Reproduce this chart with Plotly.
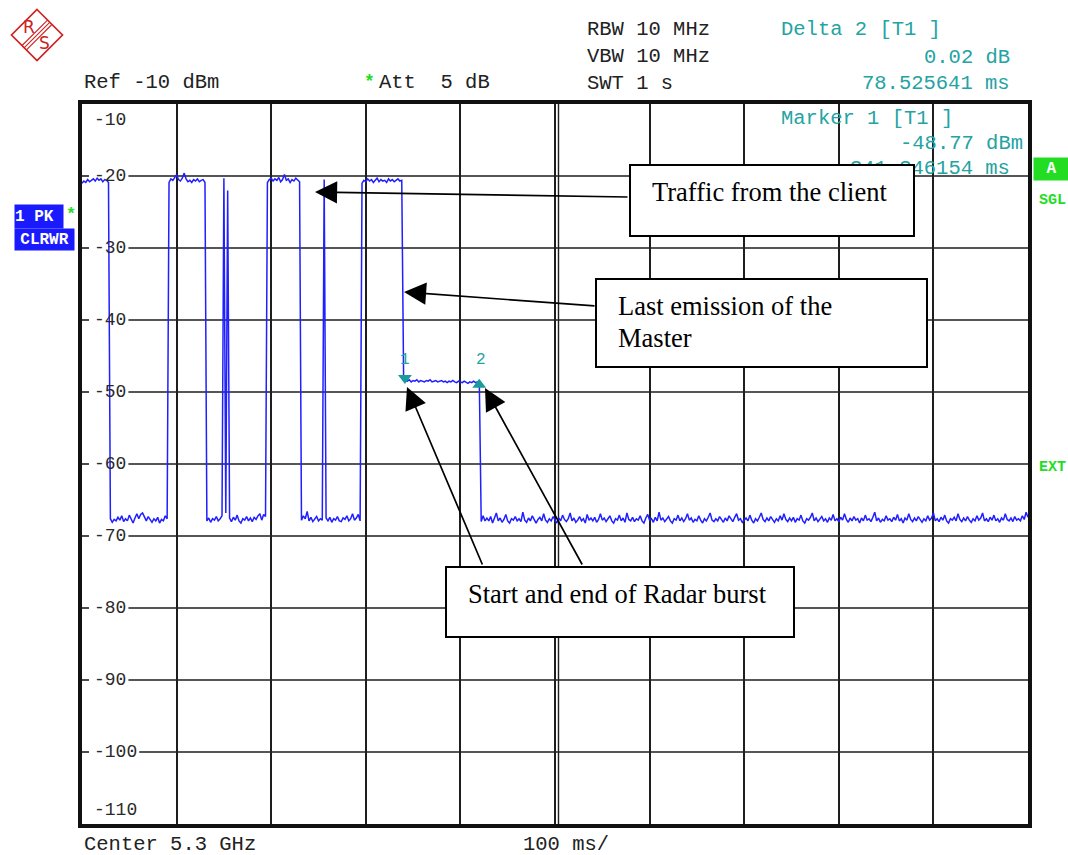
import plotly.graph_objects as go

# ---------------- data ----------------
sweep_step_ms = 2.0
level_dbm = [
    -21.0, -20.7, -20.9, -20.5, -20.8, -20.6, -20.4, -20.7, -20.3, -20.6,
    -20.4, -20.8, -20.5, -20.6, -20.9, -67.6, -68.1, -67.7, -67.9, -67.4,
    -67.8, -67.2, -68.0, -67.6, -67.9, -67.1, -67.7, -68.2, -67.5, -66.9,
    -67.6, -67.0, -66.8, -67.4, -67.9, -67.3, -67.8, -68.1, -67.6, -67.9,
    -67.4, -68.2, -67.7, -67.9, -67.2, -67.6, -20.9, -20.4, -20.6, -20.2,
    -19.8, -20.5, -20.7, -20.3, -19.6, -20.4, -20.8, -20.6, -20.9, -20.5,
    -20.7, -20.4, -20.8, -20.6, -20.5, -20.9, -67.9, -67.5, -68.1, -67.6,
    -67.8, -67.3, -67.9, -67.6, -67.2, -20.3, -66.8, -22.0, -67.5, -68.0,
    -67.4, -67.8, -67.1, -67.9, -68.2, -67.6, -67.8, -67.3, -67.9, -67.5,
    -68.0, -67.4, -67.7, -67.2, -66.9, -67.8, -67.0, -67.3, -20.9, -20.5,
    -20.3, -20.7, -20.4, -20.6, -20.2, -20.8, -20.5, -19.8, -20.6, -20.4,
    -20.9, -20.5, -20.7, -20.3, -20.6, -20.8, -67.8, -67.2, -67.6, -66.6,
    -67.9, -67.4, -68.0, -67.7, -67.3, -67.9, -67.6, -67.8, -20.5, -67.5,
    -67.9, -67.4, -68.1, -67.6, -67.8, -67.3, -67.9, -68.0, -67.5, -67.7,
    -67.2, -67.9, -67.6, -66.9, -67.8, -67.5, -67.0, -67.9, -21.0, -20.6,
    -20.8, -20.4, -20.7, -20.5, -20.9, -20.6, -20.3, -20.8, -20.5, -20.7,
    -20.6, -20.9, -20.4, -20.7, -20.5, -20.8, -20.6, -20.4, -20.7, -20.6,
    -48.3, -48.4, -48.5, -48.3, -48.6, -48.4, -48.5, -48.3, -48.6, -48.4,
    -48.5, -48.6, -48.4, -48.5, -48.3, -48.6, -48.5, -48.4, -48.6, -48.5,
    -48.4, -48.6, -48.5, -48.7, -48.5, -48.6, -48.4, -48.6, -48.7, -48.5,
    -48.6, -48.7, -48.5, -48.6, -48.8, -48.6, -48.7, -48.5, -48.7, -48.6,
    -48.7, -68.0, -67.2, -67.9, -67.5, -67.9, -67.3, -68.2, -67.6, -66.8,
    -67.9, -67.5, -68.1, -67.7, -67.0, -67.9, -68.2, -67.6, -67.8, -67.3,
    -67.9, -67.6, -68.0, -66.7, -67.8, -68.1, -67.5, -67.9, -67.2, -67.8,
    -68.2, -67.7, -67.4, -67.9, -66.9, -67.8, -68.1, -67.6, -67.9, -67.3,
    -67.8, -68.2, -67.5, -67.9, -67.1, -67.7, -68.0, -67.6, -66.8, -67.9,
    -67.5, -68.1, -67.8, -67.3, -67.9, -67.6, -68.2, -67.0, -67.8, -67.5,
    -67.9, -67.4, -68.1, -67.7, -66.9, -67.8, -67.5, -68.0, -67.6, -67.2,
    -67.9, -68.2, -67.6, -67.8, -67.1, -67.9, -67.5, -68.1, -66.8, -67.7,
    -67.9, -67.4, -68.0, -67.6, -67.8, -67.2, -67.9, -68.2, -67.5, -67.0,
    -67.8, -67.6, -68.1, -67.4, -67.9, -66.7, -67.8, -67.5, -68.0, -67.7,
    -67.3, -67.9, -68.2, -67.6, -67.8, -67.1, -67.9, -67.5, -68.0, -67.6,
    -66.9, -67.8, -67.5, -68.1, -67.7, -67.9, -67.2, -67.8, -68.2, -67.6,
    -67.9, -67.4, -66.8, -67.8, -68.0, -67.6, -67.9, -67.3, -67.8, -68.1,
    -67.5, -67.9, -67.2, -67.7, -68.0, -67.4, -66.9, -67.8, -67.6, -68.1,
    -67.8, -67.5, -67.9, -67.1, -67.8, -68.2, -67.6, -67.9, -67.4, -66.8,
    -67.7, -68.0, -67.5, -67.9, -67.3, -67.8, -68.1, -67.6, -67.9, -67.2,
    -67.8, -66.9, -67.7, -68.0, -67.5, -67.9, -67.4, -68.1, -67.6, -67.8,
    -67.1, -67.9, -68.2, -67.6, -67.8, -67.4, -66.8, -67.9, -67.5, -68.0,
    -67.7, -67.3, -67.9, -67.6, -68.1, -67.5, -67.8, -67.0, -67.9, -67.6,
    -68.0, -67.4, -67.8, -66.9, -67.7, -68.1, -67.5, -67.9, -67.3, -67.8,
    -67.6, -68.2, -67.5, -67.9, -67.1, -67.8, -67.6, -68.0, -67.4, -66.7,
    -67.9, -67.5, -68.1, -67.7, -67.9, -67.2, -67.8, -67.6, -68.0, -67.4,
    -67.8, -67.0, -67.9, -67.6, -68.2, -67.5, -67.8, -66.9, -67.7, -68.0,
    -67.5, -67.9, -67.3, -67.8, -68.1, -67.6, -67.9, -67.2, -67.8, -67.5,
    -66.8, -67.9, -67.6, -68.0, -67.4, -67.8, -67.1, -67.9, -68.2, -67.6,
    -67.8, -67.4, -67.9, -66.9, -67.7, -68.0, -67.5, -67.9, -67.3, -67.8,
    -68.1, -67.6, -67.9, -67.2, -67.8, -67.5, -66.8, -67.9, -67.6, -68.0,
    -67.4, -67.8, -67.1, -67.9, -67.6, -68.1, -67.5, -67.8, -66.9, -67.7,
    -67.9, -67.5, -68.0, -67.3, -67.8, -67.6, -67.9, -67.2, -67.7, -66.7,
    -67.4,
]
sweep_ms = [i * sweep_step_ms for i in range(len(level_dbm))]

marker_ms = [341.346154, 419.871795]
marker_dbm = [-48.77, -48.75]
marker_names = ["1", "2"]

y_tick_values = [-10, -20, -30, -40, -50, -60, -70, -80, -90, -100, -110]
y_tick_labels = ["-10", "-20", "-30", "-40", "-50", "-60", "-70", "-80", "-90", "-100", "-110"]

header_left = ["Ref -10 dBm"]
att_text = "Att  5 dB"
settings_text = ["RBW 10 MHz", "VBW 10 MHz", "SWT 1 s"]
delta_text = ["Delta 2 [T1 ]", "0.02 dB", "78.525641 ms"]
marker_text = ["Marker 1 [T1 ]", "-48.77 dBm", "341.346154 ms"]
footer_text = ["Center 5.3 GHz", "100 ms/"]

# ---------------- geometry helpers (pixels -> paper) ----------------
W, H = 1068, 855
PL, PR, PT, PB = 82, 1028, 104, 824


def fx(p):
    return (p - PL) / (PR - PL)


def fy(p):
    return (PB - p) / (PB - PT)


MONO = "Liberation Mono, Courier New, monospace"
SERIF = "Liberation Serif, Times New Roman, serif"
SANS = "DejaVu Sans, Arial, sans-serif"
TEAL = "#24a3a3"
GREEN = "#22dd22"
BLUE = "#1a1aff"
DARK = "#222222"
RED = "#cc2222"

fig = go.Figure()

fig.add_trace(go.Scatter(
    x=sweep_ms, y=level_dbm, mode="lines",
    line=dict(color="#1f1fff", width=1.5), hoverinfo="skip", showlegend=False,
))

# marker triangles (1: down-pointing above trace, 2: up-pointing below)
fig.add_trace(go.Scatter(
    x=[marker_ms[0]], y=[marker_dbm[0] + 0.7], mode="markers",
    marker=dict(symbol="triangle-down", size=12, color="#1a9a9a"),
    hoverinfo="skip", showlegend=False,
))
fig.add_trace(go.Scatter(
    x=[marker_ms[1]], y=[marker_dbm[1] - 0.25], mode="markers",
    marker=dict(symbol="triangle-up", size=12, color="#1a9a9a"),
    hoverinfo="skip", showlegend=False,
))

shapes = []
ann = []

# horizontal grid lines with gap for the labels
for v, lab in zip(y_tick_values, y_tick_labels):
    if v in (-10, -110):
        continue
    gap_end = 93 + len(lab) * 10.8 + 3
    shapes.append(dict(type="line", xref="paper", yref="y", x0=0, x1=fx(89), y0=v, y1=v,
                       line=dict(color="#1e1e1e", width=1.6), layer="below"))
    shapes.append(dict(type="line", xref="paper", yref="y", x0=fx(gap_end), x1=1, y0=v, y1=v,
                       line=dict(color="#1e1e1e", width=1.6), layer="below"))

# y tick labels
for v, lab in zip(y_tick_values, y_tick_labels):
    ys = 0
    if v == -10:
        ys = -16
    elif v == -110:
        ys = 14
    ann.append(dict(xref="paper", yref="y", x=fx(92), y=v, yshift=ys, text=lab, showarrow=False,
                    xanchor="left", yanchor="middle", font=dict(family=MONO, size=18, color="#2a2a2a")))

# centre double line
shapes.append(dict(type="line", xref="paper", yref="paper", x0=fx(558.5), x1=fx(558.5), y0=0, y1=1,
                   line=dict(color="#1e1e1e", width=1.4), layer="below"))

# outer frame
shapes.append(dict(type="rect", xref="paper", yref="paper", x0=fx(79), x1=fx(1031), y0=fy(827), y1=fy(101),
                   line=dict(color="#111111", width=2)))

# R&S logo
cx, cy, r = 37, 35, 25.5
shapes.append(dict(type="path", xref="paper", yref="paper",
                   path=f"M {fx(cx)},{fy(cy - r)} L {fx(cx + r)},{fy(cy)} L {fx(cx)},{fy(cy + r)} L {fx(cx - r)},{fy(cy)} Z",
                   line=dict(color=RED, width=1.7)))
for off in (-2.2, 0, 2.2):
    shapes.append(dict(type="line", xref="paper", yref="paper",
                       x0=fx(cx + 12.7 + off), y0=fy(cy - 12.7 + off),
                       x1=fx(cx - 12.7 + off), y1=fy(cy + 12.7 + off),
                       line=dict(color=RED, width=1.1)))
ann.append(dict(xref="paper", yref="paper", x=fx(29), y=fy(27), text="R", showarrow=False,
                xanchor="center", yanchor="middle", font=dict(family=SANS, size=17, color=RED)))
ann.append(dict(xref="paper", yref="paper", x=fx(44), y=fy(43), text="S", showarrow=False,
                xanchor="center", yanchor="middle", font=dict(family=SANS, size=17, color=RED)))


def label(px, py, text, color=DARK, size=20.5, xanchor="left", family=MONO, **kw):
    ann.append(dict(xref="paper", yref="paper", x=fx(px), y=fy(py), text=text, showarrow=False,
                    xanchor=xanchor, yanchor="middle", font=dict(family=family, size=size, color=color), **kw))


# header
label(82, 82, header_left[0])
label(362, 82, "<b>*</b>", color=GREEN, size=18)
label(377, 82, att_text)
for i, t in enumerate(settings_text):
    label(585, 30 + i * 26.5, t)
label(779, 30, delta_text[0], color=TEAL)
label(1012, 57, delta_text[1], color=TEAL, xanchor="right")
label(1012, 83, delta_text[2], color=TEAL, xanchor="right")
label(779, 118, marker_text[0], color=TEAL)
label(1025, 143, marker_text[1], color=TEAL, xanchor="right")
label(1012, 168, marker_text[2], color=TEAL, xanchor="right")

# footer
label(82, 845, footer_text[0])
label(521, 845, footer_text[1])

# left trace info boxes
ann.append(dict(xref="paper", yref="paper", x=fx(14), y=fy(204), xanchor="left", yanchor="top",
                text="<b>1 PK</b>", showarrow=False, bgcolor=BLUE, width=48, height=23, borderpad=0,
                align="left", font=dict(family=MONO, size=16, color="white")))
ann.append(dict(xref="paper", yref="paper", x=fx(14), y=fy(228), xanchor="left", yanchor="top",
                text="<b>CLRWR</b>", showarrow=False, bgcolor=BLUE, width=59, height=21, borderpad=0,
                font=dict(family=MONO, size=16, color="white")))
label(64, 214, "<b>*</b>", color=GREEN, size=17)

# right status
ann.append(dict(xref="paper", yref="paper", x=fx(1033), y=fy(157), xanchor="left", yanchor="top",
                text="<b>A</b>", showarrow=False, bgcolor=GREEN, width=35, height=22, borderpad=0,
                font=dict(family=MONO, size=16, color="white")))
label(1037, 201, "<b>SGL</b>", color=GREEN, size=15)
label(1037, 467, "<b>EXT</b>", color=GREEN, size=15)

# marker numbers
for m, v, n, xs in zip(marker_ms, marker_dbm, marker_names, (0, 2)):
    ann.append(dict(xref="x", yref="y", x=m, y=v, xshift=xs, yshift=23, text=n, showarrow=False,
                    font=dict(family=MONO, size=16, color=TEAL)))

# arrows (head in paper coords, tail offset in pixels)
arrows = [((315, 192), (629, 197)), ((404, 292), (596, 306)),
          ((407, 387), (483, 566)), ((485, 388), (583, 566))]
for (hx, hy), (tx, ty) in arrows:
    ann.append(dict(xref="paper", yref="paper", x=fx(hx), y=fy(hy), ax=tx - hx, ay=ty - hy,
                    text="", showarrow=True, arrowhead=2, arrowsize=2.6, arrowwidth=1.7,
                    arrowcolor="black", standoff=0, startstandoff=0))

# comment boxes
boxes = [((629, 164, 915, 237), ["Traffic from the client"]),
         ((595, 278, 928, 368), ["Last emission of the", "Master"]),
         ((445, 566, 795, 638), ["Start and end of Radar burst"])]
for (x0, y0, x1, y1), lines in boxes:
    ann.append(dict(xref="paper", yref="paper", x=fx(x0), y=fy(y0), xanchor="left", yanchor="top",
                    text=" ", showarrow=False, bgcolor="white", bordercolor="black", borderwidth=2,
                    borderpad=0, width=x1 - x0 - 4, height=y1 - y0 - 4))
    for k, line in enumerate(lines):
        label(x0 + 21, y0 + 28 + 32 * k, line, color="black", size=26.5, family=SERIF)

fig.update_layout(
    width=W, height=H,
    margin=dict(l=PL, r=W - PR, t=PT, b=H - PB, pad=0),
    paper_bgcolor="white", plot_bgcolor="white",
    showlegend=False,
    xaxis=dict(range=[0, 1000], dtick=100, tick0=0, showgrid=True, gridcolor="#1e1e1e", gridwidth=1.6,
               zeroline=False, showticklabels=False, ticks="", showline=True, mirror=True,
               linecolor="#111111", linewidth=2, fixedrange=True),
    yaxis=dict(range=[-110, -10], showgrid=False, zeroline=False, showticklabels=False, ticks="",
               showline=True, mirror=True, linecolor="#111111", linewidth=2, fixedrange=True),
    shapes=shapes,
    annotations=ann,
)

fig.write_html("out.html", config=dict(displayModeBar=False))
